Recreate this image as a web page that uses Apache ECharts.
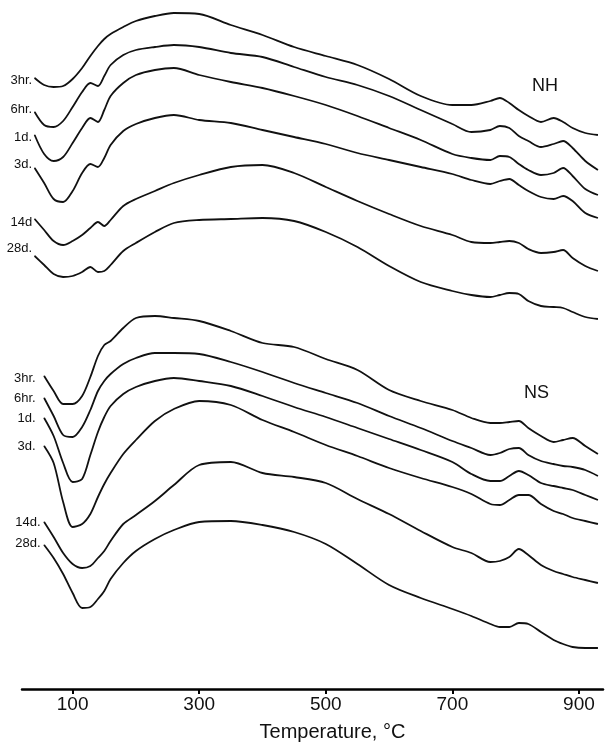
<!DOCTYPE html>
<html>
<head>
<meta charset="utf-8">
<script src="https://cdn.jsdelivr.net/npm/echarts@6/dist/echarts.min.js"></script>
<style>
  html, body { margin: 0; padding: 0; background: #fff; }
  #chart { width: 607px; height: 750px; }
</style>
</head>
<body>
<div id="chart"></div>
<script>
// DTA traces, NH (top group) and NS (bottom group)
// y values are trace positions in plot units (downward), shared temperature grid
const temps = [40, 55, 70, 85, 100, 115, 128, 140, 150, 160, 180, 200, 230, 260, 300, 350, 400, 450, 500,
  550, 600, 650, 700, 730, 760, 775, 790, 805, 820, 840, 860, 875, 890, 910, 930];
const tickTemps = [100, 300, 500, 700, 900];

const nhNames = ['3hr.', '6hr.', '1d.', '3d.', '14d', '28d.'];
const nsNames = ['3hr.', '6hr.', '1d.', '3d.', '14d.', '28d.'];

const nh3hr = [78, 85, 87, 86, 79, 68, 56, 46, 39, 34, 27, 21, 16, 13, 14, 25, 35, 47, 56, 65, 79, 96, 105, 105, 101, 98, 103, 110, 116, 122, 118, 122, 128, 133, 135];
const nh6hr = [112, 125, 127, 121, 107, 92, 83, 86, 76, 65, 55, 50, 47, 45, 47, 53, 57, 67, 77, 85, 96, 110, 124, 132, 130, 126, 128, 136, 141, 147, 144, 141, 148, 161, 170];
const nh1d = [135, 154, 161, 157, 143, 128, 118, 122, 110, 96, 83, 75, 70, 68, 75, 82, 88, 96, 105, 116, 128, 140, 154, 158, 160, 156, 157, 164, 170, 175, 173, 168, 176, 189, 195];
const nh3d = [168, 183, 199, 202, 191, 173, 164, 167, 158, 145, 131, 124, 118, 115, 120, 123, 130, 137, 144, 153, 160, 167, 174, 180, 184, 181, 179, 185, 191, 197, 199, 196, 201, 213, 218];
const nh14d = [219, 230, 241, 245, 241, 235, 228, 222, 226, 220, 206, 199, 191, 183, 175, 167, 165, 173, 187, 201, 214, 226, 235, 242, 243, 242, 241, 243, 249, 253, 252, 250, 258, 266, 271];
const nh28d = [256, 265, 274, 277, 276, 272, 267, 272, 271, 265, 251, 243, 232, 223, 220, 219, 218, 221, 232, 247, 266, 282, 291, 295, 297, 295, 293, 294, 301, 306, 307, 308, 312, 317, 319];

const ns3hr = [null, 376, 391, 404, 404, 396, 377, 356, 345, 341, 328, 318, 316, 318, 321, 331, 343, 347, 359, 370, 390, 401, 410, 418, 423, 423, 422, 421, 428, 436, 442, 440, 438, 446, 454];
const ns6hr = [null, 398, 416, 435, 437, 427, 410, 391, 381, 374, 364, 358, 353, 353, 354, 362, 372, 383, 393, 403, 416, 428, 441, 448, 455, 453, 449, 448, 455, 461, 464, 466, 467, 470, 476];
const ns1d = [null, 418, 436, 463, 482, 479, 455, 432, 417, 406, 394, 387, 381, 378, 381, 386, 396, 407, 417, 428, 439, 450, 462, 474, 481, 481, 476, 471, 475, 483, 486, 488, 490, 495, 500];
const ns3d = [null, 446, 463, 502, 527, 524, 514, 497, 484, 473, 454, 440, 421, 409, 401, 405, 420, 432, 445, 456, 468, 478, 487, 494, 504, 505, 500, 495, 495, 504, 511, 514, 518, 521, 524];
const ns14d = [null, 522, 537, 553, 564, 568, 566, 558, 551, 541, 524, 515, 501, 485, 465, 462, 473, 477, 483, 499, 514, 531, 547, 553, 562, 561, 557, 549, 555, 565, 571, 574, 577, 580, 583];
const ns28d = [null, 545, 558, 574, 593, 608, 607, 599, 591, 579, 563, 551, 539, 530, 522, 521, 525, 532, 544, 564, 585, 598, 609, 616, 624, 627, 627, 623, 624, 632, 640, 644, 647, 648, 648];

const FONT = '"Liberation Sans", Arial, sans-serif';

// label nudges for the start-of-curve names: [distance, dy]
const nhNudge = [[2, 2], [2, -3], [2, 2], [2, -4], [2, 3], [2, -8]];
const nsNudge = [[8, 2], [8, 0], [8, 0], [8, 0], [3, 0], [3, -2]];

function makeSeries(name, values, nudge) {
  const data = [];
  values.forEach((v, i) => {
    if (v !== null) data.push({ value: [temps[i], v] });
  });
  data[0].symbol = 'circle';
  data[0].symbolSize = 1;
  data[0].label = {
    show: true,
    position: 'left',
    distance: nudge[0],
    offset: [0, nudge[1]],
    formatter: name,
    fontFamily: FONT,
    fontSize: 13,
    color: '#111'
  };
  return {
    type: 'line',
    name: name,
    data: data,
    symbol: 'none',
    showSymbol: true,
    smooth: 0.3,
    silent: true,
    lineStyle: { color: '#111', width: 1.8 },
    itemStyle: { color: '#111' }
  };
}

const getOption = () => {
  const nh = [nh3hr, nh6hr, nh1d, nh3d, nh14d, nh28d];
  const ns = [ns3hr, ns6hr, ns1d, ns3d, ns14d, ns28d];
  const series = [];
  nh.forEach((vals, i) => series.push(makeSeries(nhNames[i], vals, nhNudge[i])));
  ns.forEach((vals, i) => series.push(makeSeries(nsNames[i], vals, nsNudge[i])));

  return {
    animation: false,
    backgroundColor: '#fff',
    title: [
      { text: 'NH', left: 527, top: 72, textStyle: { fontFamily: FONT, fontSize: 18, fontWeight: 'normal', color: '#111' } },
      { text: 'NS', left: 519, top: 379, textStyle: { fontFamily: FONT, fontSize: 18, fontWeight: 'normal', color: '#111' } }
    ],
    grid: { left: 22, right: 4, top: 0, bottom: 61 },
    xAxis: {
      type: 'value',
      min: 20,
      max: 938,
      name: 'Temperature, °C',
      nameLocation: 'middle',
      nameGap: 33,
      nameTextStyle: { fontFamily: FONT, fontSize: 20, color: '#111', padding: [0, 0, 0, 40] },
      axisLine: { onZero: false, lineStyle: { color: '#000', width: 2.5 } },
      axisTick: { show: true, customValues: tickTemps, inside: false, length: 5, lineStyle: { color: '#000', width: 2 } },
      axisLabel: { customValues: tickTemps, margin: 6, fontFamily: FONT, fontSize: 19, color: '#111' },
      splitLine: { show: false }
    },
    yAxis: {
      type: 'value',
      min: 0,
      max: 689,
      inverse: true,
      show: false
    },
    series: series
  };
};

const initChart = () => {
  const chart = echarts.init(document.getElementById('chart'));
  chart.setOption(getOption());
};

window.addEventListener('load', initChart);
</script>
</body>
</html>
